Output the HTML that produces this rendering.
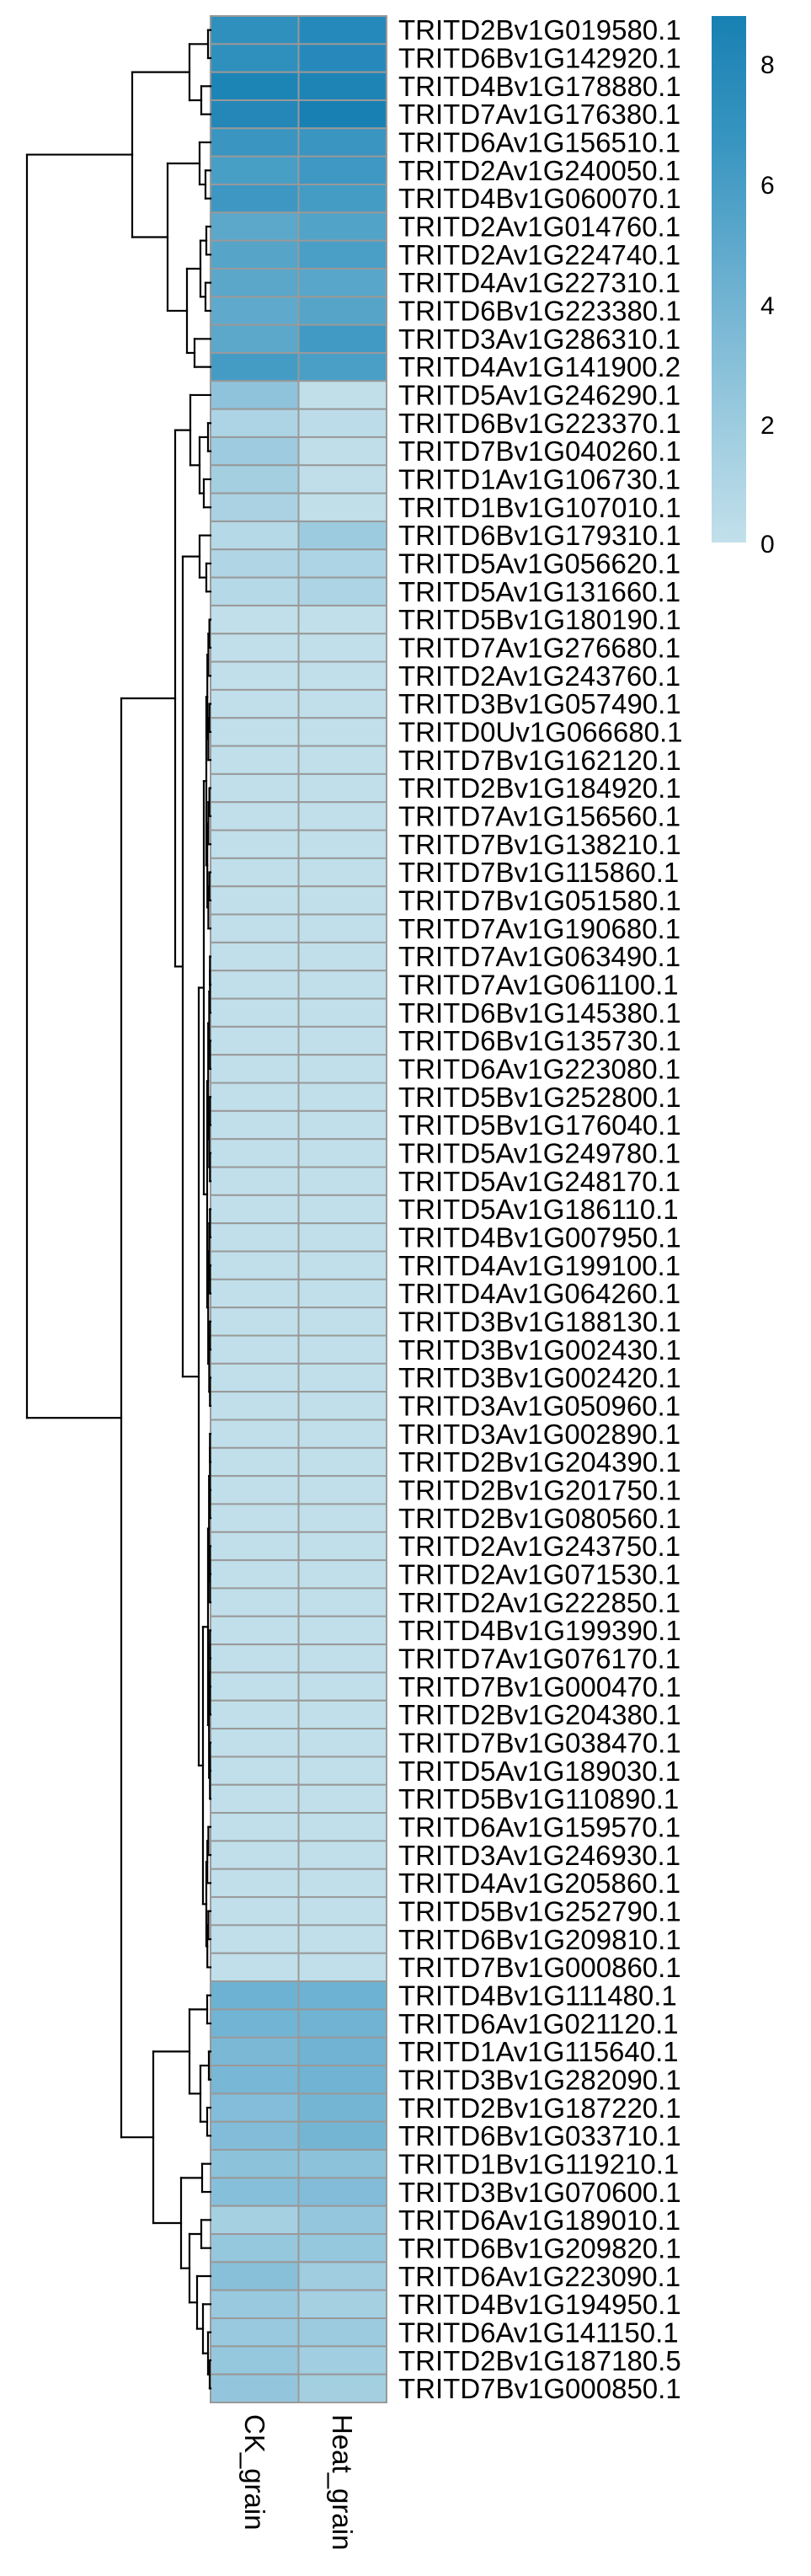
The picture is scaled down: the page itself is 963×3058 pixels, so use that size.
<!DOCTYPE html>
<html><head><meta charset="utf-8">
<style>
html,body{margin:0;padding:0;background:#fff;}
svg{display:block;}
text{font-family:"Liberation Sans",Arial,sans-serif;fill:#000;}
</style></head>
<body>
<svg id="s" width="963" height="3058" viewBox="0 0 963 3058" xmlns="http://www.w3.org/2000/svg">
<defs>
<linearGradient id="lg" x1="0" y1="0" x2="0" y2="1">
<stop offset="0" stop-color="#1880b3"/>
<stop offset="0.25" stop-color="#3a96c1"/>
<stop offset="0.5" stop-color="#6aafd0"/>
<stop offset="0.75" stop-color="#98c9de"/>
<stop offset="1" stop-color="#c2e0eb"/>
</linearGradient>
</defs>
<g id="cells"></g>
<g id="dendro" stroke="#000" stroke-width="2.2" fill="none" stroke-linecap="square"></g>
<rect x="845" y="19" width="41" height="625" fill="url(#lg)"/>
<g font-size="30">
<text x="903" y="87">8</text>
<text x="903" y="230">6</text>
<text x="903" y="373">4</text>
<text x="903" y="515">2</text>
<text x="903" y="656">0</text>
</g>
<g font-size="33" id="labels">
<text x="473" y="47.2">TRITD2Bv1G019580.1</text>
<text x="473" y="80.5">TRITD6Bv1G142920.1</text>
<text x="473" y="113.8">TRITD4Bv1G178880.1</text>
<text x="473" y="147.2">TRITD7Av1G176380.1</text>
<text x="473" y="180.5">TRITD6Av1G156510.1</text>
<text x="473" y="213.8">TRITD2Av1G240050.1</text>
<text x="473" y="247.2">TRITD4Bv1G060070.1</text>
<text x="473" y="280.5">TRITD2Av1G014760.1</text>
<text x="473" y="313.8">TRITD2Av1G224740.1</text>
<text x="473" y="347.2">TRITD4Av1G227310.1</text>
<text x="473" y="380.5">TRITD6Bv1G223380.1</text>
<text x="473" y="413.8">TRITD3Av1G286310.1</text>
<text x="473" y="447.2">TRITD4Av1G141900.2</text>
<text x="473" y="480.5">TRITD5Av1G246290.1</text>
<text x="473" y="513.8">TRITD6Bv1G223370.1</text>
<text x="473" y="547.2">TRITD7Bv1G040260.1</text>
<text x="473" y="580.5">TRITD1Av1G106730.1</text>
<text x="473" y="613.8">TRITD1Bv1G107010.1</text>
<text x="473" y="647.2">TRITD6Bv1G179310.1</text>
<text x="473" y="680.5">TRITD5Av1G056620.1</text>
<text x="473" y="713.8">TRITD5Av1G131660.1</text>
<text x="473" y="747.2">TRITD5Bv1G180190.1</text>
<text x="473" y="780.5">TRITD7Av1G276680.1</text>
<text x="473" y="813.8">TRITD2Av1G243760.1</text>
<text x="473" y="847.2">TRITD3Bv1G057490.1</text>
<text x="473" y="880.5">TRITD0Uv1G066680.1</text>
<text x="473" y="913.8">TRITD7Bv1G162120.1</text>
<text x="473" y="947.2">TRITD2Bv1G184920.1</text>
<text x="473" y="980.5">TRITD7Av1G156560.1</text>
<text x="473" y="1013.8">TRITD7Bv1G138210.1</text>
<text x="473" y="1047.2">TRITD7Bv1G115860.1</text>
<text x="473" y="1080.5">TRITD7Bv1G051580.1</text>
<text x="473" y="1113.8">TRITD7Av1G190680.1</text>
<text x="473" y="1147.2">TRITD7Av1G063490.1</text>
<text x="473" y="1180.5">TRITD7Av1G061100.1</text>
<text x="473" y="1213.8">TRITD6Bv1G145380.1</text>
<text x="473" y="1247.2">TRITD6Bv1G135730.1</text>
<text x="473" y="1280.5">TRITD6Av1G223080.1</text>
<text x="473" y="1313.8">TRITD5Bv1G252800.1</text>
<text x="473" y="1347.2">TRITD5Bv1G176040.1</text>
<text x="473" y="1380.5">TRITD5Av1G249780.1</text>
<text x="473" y="1413.8">TRITD5Av1G248170.1</text>
<text x="473" y="1447.2">TRITD5Av1G186110.1</text>
<text x="473" y="1480.5">TRITD4Bv1G007950.1</text>
<text x="473" y="1513.8">TRITD4Av1G199100.1</text>
<text x="473" y="1547.2">TRITD4Av1G064260.1</text>
<text x="473" y="1580.5">TRITD3Bv1G188130.1</text>
<text x="473" y="1613.8">TRITD3Bv1G002430.1</text>
<text x="473" y="1647.2">TRITD3Bv1G002420.1</text>
<text x="473" y="1680.5">TRITD3Av1G050960.1</text>
<text x="473" y="1713.8">TRITD3Av1G002890.1</text>
<text x="473" y="1747.2">TRITD2Bv1G204390.1</text>
<text x="473" y="1780.5">TRITD2Bv1G201750.1</text>
<text x="473" y="1813.8">TRITD2Bv1G080560.1</text>
<text x="473" y="1847.2">TRITD2Av1G243750.1</text>
<text x="473" y="1880.5">TRITD2Av1G071530.1</text>
<text x="473" y="1913.8">TRITD2Av1G222850.1</text>
<text x="473" y="1947.2">TRITD4Bv1G199390.1</text>
<text x="473" y="1980.5">TRITD7Av1G076170.1</text>
<text x="473" y="2013.8">TRITD7Bv1G000470.1</text>
<text x="473" y="2047.2">TRITD2Bv1G204380.1</text>
<text x="473" y="2080.5">TRITD7Bv1G038470.1</text>
<text x="473" y="2113.8">TRITD5Av1G189030.1</text>
<text x="473" y="2147.2">TRITD5Bv1G110890.1</text>
<text x="473" y="2180.5">TRITD6Av1G159570.1</text>
<text x="473" y="2213.8">TRITD3Av1G246930.1</text>
<text x="473" y="2247.2">TRITD4Av1G205860.1</text>
<text x="473" y="2280.5">TRITD5Bv1G252790.1</text>
<text x="473" y="2313.8">TRITD6Bv1G209810.1</text>
<text x="473" y="2347.2">TRITD7Bv1G000860.1</text>
<text x="473" y="2380.5">TRITD4Bv1G111480.1</text>
<text x="473" y="2413.8">TRITD6Av1G021120.1</text>
<text x="473" y="2447.2">TRITD1Av1G115640.1</text>
<text x="473" y="2480.5">TRITD3Bv1G282090.1</text>
<text x="473" y="2513.8">TRITD2Bv1G187220.1</text>
<text x="473" y="2547.2">TRITD6Bv1G033710.1</text>
<text x="473" y="2580.5">TRITD1Bv1G119210.1</text>
<text x="473" y="2613.8">TRITD3Bv1G070600.1</text>
<text x="473" y="2647.2">TRITD6Av1G189010.1</text>
<text x="473" y="2680.5">TRITD6Bv1G209820.1</text>
<text x="473" y="2713.8">TRITD6Av1G223090.1</text>
<text x="473" y="2747.2">TRITD4Bv1G194950.1</text>
<text x="473" y="2780.5">TRITD6Av1G141150.1</text>
<text x="473" y="2813.8">TRITD2Bv1G187180.5</text>
<text x="473" y="2847.2">TRITD7Bv1G000850.1</text>
</g>
<text font-size="33" transform="translate(291,2866) rotate(90)">CK_grain</text>
<text font-size="33" transform="translate(395,2866) rotate(90)">Heat_grain</text>
</svg>
<script>
(function(){
var NS="http://www.w3.org/2000/svg";
var top0=19,rh=(2852-19)/85;
var L="#c0dfea";
var ck=["#2f90bd","#2f90bd","#1d84b6","#2487b8","#3a96c1","#489fc6","#3d97c2","#5ba8cb","#56a5c9","#5aa7ca","#5faacc","#5ba8cb","#449cc5",
"#8fc3db","#add4e4","#9ecbdf","#a3cfe1","#aad2e3","#b5d9e7","#b0d6e5","#b5d9e7"];
var ht=["#2689bb","#2789bb","#1e84b6","#1880b3","#3a95c0","#3e98c3","#449cc5","#52a3c8","#4a9fc6","#58a7ca","#56a5c9","#409ac3","#4a9fc6",
"#c0dfe9","#bbdce8","#bfdeea","#bfdeea","#c0dfe9","#9ccbdf","#acd4e4","#acd4e4"];
while(ck.length<70){ck.push(L);ht.push(L);}
ck=ck.concat(["#6db2d2","#72b4d3","#7ab8d6","#78b7d5","#84bdd9","#82bcd8","#8cc2da","#86bfd9","#a5d0e2","#95c7dd","#88c0d9","#98c9de","#98c9de","#95c7dd","#93c6dc"]);
ht=ht.concat(["#6db2d2","#70b3d2","#70b3d2","#70b3d2","#75b5d4","#74b5d3","#8cc2da","#82bcd8","#94c6dd","#95c7dd","#a0cde0","#a5d0e2","#9ccbdf","#a2cee1","#a3cfe1"]);
var g=document.getElementById("cells");
function el(t,a){var e=document.createElementNS(NS,t);for(var k in a)e.setAttribute(k,a[k]);return e;}
for(var i=0;i<85;i++){
  var y=top0+i*rh;
  g.appendChild(el("rect",{x:250,y:y,width:104.5,height:rh,fill:ck[i],stroke:"#999",'stroke-width':2}));
  g.appendChild(el("rect",{x:354.5,y:y,width:104.5,height:rh,fill:ht[i],stroke:"#999",'stroke-width':2}));
}
function rc(i){return top0+rh*(i-0.5);}
function N(x,a,b){return {x:x,c:[a,b]};}
function grp(lo,hi,x){ if(lo==hi) return lo; var m=Math.floor((lo+hi)/2); var nx=Math.min(x+1.2,249.3); return N(x,grp(lo,m,nx),grp(m+1,hi,nx)); }
var A=N(247,1,2),B=N(239,3,4),AB=N(225,A,B);
var C5=N(237,5,N(244,6,7));
var D=N(238,N(245,8,9),N(244,10,11)),E=N(231,12,13),DE=N(222,D,E);
var TOP=N(157,AB,N(199,C5,DE));
var U=N(226,14,N(237,N(247,15,16),N(242,17,18)));
var V=N(237,19,N(245,20,21));
var W1=N(242,grp(22,33,245),grp(34,50,246));
var W2=N(241,grp(51,64,247),grp(65,70,245));
var X=N(217,V,N(236,W1,W2));
var MID=N(208,U,X);
var P=N(225,N(246,71,72),N(238,N(248,73,74),N(246,75,76)));
var Q=N(215,N(240,77,78),N(225,N(239,79,80),N(234,81,N(241,82,N(247,83,N(249,84,85))))));
var BOT=N(182,P,Q);
var ROOT=N(32,TOP,N(144,MID,BOT));
var d=document.getElementById("dendro");
function line(x1,y1,x2,y2){d.appendChild(el("line",{x1:x1,y1:y1,x2:x2,y2:y2}));}
function pos(n){ if(typeof n==="number") return {x:250,y:rc(n)};
  var a=pos(n.c[0]),b=pos(n.c[1]); var y=(a.y+b.y)/2;
  line(n.x,a.y,n.x,b.y); line(n.x,a.y,a.x,a.y); line(n.x,b.y,b.x,b.y);
  return {x:n.x,y:y}; }
pos(ROOT);
})();
</script>
</body></html>
